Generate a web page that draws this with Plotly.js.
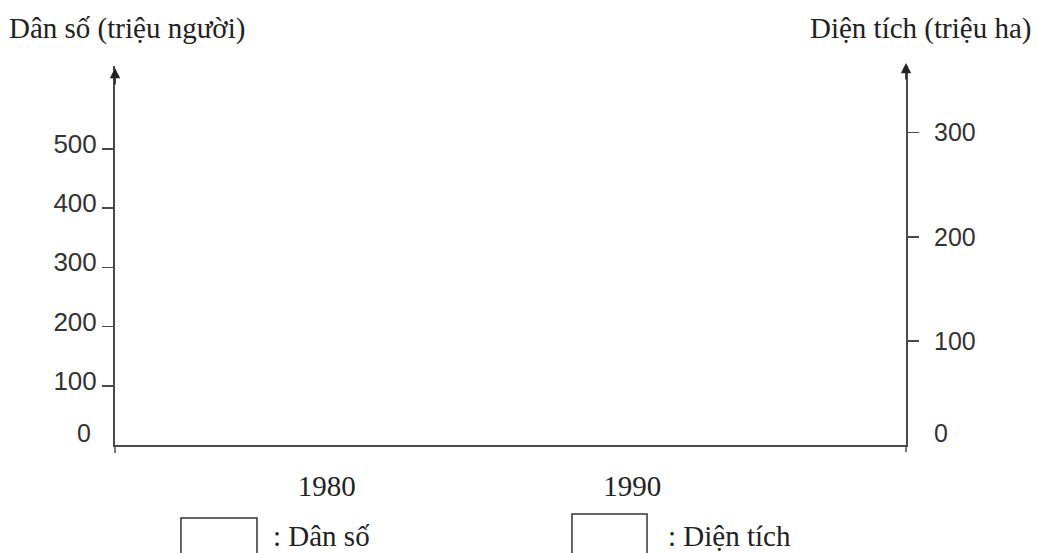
<!DOCTYPE html>
<html>
<head>
<meta charset="utf-8">
<script src="https://cdn.plot.ly/plotly-3.0.1.min.js"></script>
<style>html,body{margin:0;padding:0;background:#fff;}#chart{width:1038px;height:553px;}</style>
</head>
<body>
<div id="chart"></div>
<script>
// Empty template chart: years and the two (blank) series
const categories = ['1980', '1990'];
const populationValues = [null, null];   // Dân số (triệu người) – blank template
const areaValues = [null, null];         // Diện tích (triệu ha) – blank template
const leftTicks = [100, 200, 300, 400, 500];   // 0 is drawn without a tick mark
const rightTicks = [100, 200, 300];
const zeroLabel = '0';
const leftTitle = 'Dân số (triệu người)';
const rightTitle = 'Diện tích (triệu ha)';
const legendNames = ['Dân số', 'Diện tích'];

const axisColor = '#4a4a4a';
const sans = 'Liberation Sans, Arial, sans-serif';
const serif = 'Liberation Serif, Times New Roman, serif';

const traces = [
  {type: 'bar', x: categories, y: populationValues, name: legendNames[0], yaxis: 'y',
   marker: {color: '#fff', line: {color: '#222', width: 1}}, showlegend: false, hoverinfo: 'skip'},
  {type: 'bar', x: categories, y: areaValues, name: legendNames[1], yaxis: 'y2',
   marker: {color: '#fff', line: {color: '#222', width: 1}}, showlegend: false, hoverinfo: 'skip'}
];

const layout = {
  width: 1038, height: 553,
  margin: {l: 115, r: 132, t: 66, b: 108},
  paper_bgcolor: '#fff', plot_bgcolor: '#fff',
  showlegend: false,
  xaxis: {
    type: 'category', categoryorder: 'array', categoryarray: categories,
    range: [-0.694, 1.897],
    showline: true, linecolor: axisColor, linewidth: 2,
    showgrid: false, zeroline: false, ticks: '',
    ticklabelstandoff: 14,
    tickfont: {family: serif, size: 29, color: '#222'},
    fixedrange: true
  },
  yaxis: {
    range: [0, 640],
    tickvals: leftTicks, ticktext: leftTicks.map(String),
    showline: true, linecolor: axisColor, linewidth: 2,
    showgrid: false, zeroline: false,
    ticks: 'outside', ticklen: 11, tickwidth: 1.5, tickcolor: axisColor,
    ticklabelstandoff: 0, ticklabelshift: -5,
    tickfont: {family: sans, size: 26, color: '#333'},
    fixedrange: true
  },
  yaxis2: {
    overlaying: 'y', side: 'right',
    range: [0, 364],
    tickvals: rightTicks, ticktext: rightTicks.map(String),
    showline: true, linecolor: axisColor, linewidth: 2,
    showgrid: false, zeroline: false,
    ticks: 'outside', ticklen: 11, tickwidth: 1.5, tickcolor: axisColor,
    ticklabelstandoff: 10,
    tickfont: {family: sans, size: 25, color: '#333'},
    fixedrange: true
  },
  annotations: [
    {xref: 'paper', yref: 'paper', x: -0.137, y: 1.10, xanchor: 'left', yanchor: 'middle',
     text: leftTitle, showarrow: false, font: {family: serif, size: 29, color: '#222'}},
    {xref: 'paper', yref: 'paper', x: 1.161, y: 1.10, xanchor: 'right', yanchor: 'middle',
     text: rightTitle, showarrow: false, font: {family: serif, size: 29, color: '#222'}},
    // zero labels (no tick marks in the original)
    {xref: 'paper', yref: 'y', x: -0.028, y: 0, yshift: 12, xanchor: 'right', yanchor: 'middle',
     text: zeroLabel, showarrow: false, font: {family: sans, size: 25, color: '#333'}},
    {xref: 'paper', yref: 'y2', x: 1.033, y: 0, yshift: 12, xanchor: 'left', yanchor: 'middle',
     text: zeroLabel, showarrow: false, font: {family: sans, size: 25, color: '#333'}},
    // axis arrowheads
    {xref: 'paper', yref: 'paper', x: 0, y: 0.995, ax: 0, ay: 18, axref: 'pixel', ayref: 'pixel',
     text: '', showarrow: true, arrowhead: 2, arrowsize: 1.3, arrowwidth: 1.6, arrowcolor: '#222'},
    {xref: 'paper', yref: 'paper', x: 1, y: 1.008, ax: 0, ay: 18, axref: 'pixel', ayref: 'pixel',
     text: '', showarrow: true, arrowhead: 2, arrowsize: 1.3, arrowwidth: 1.6, arrowcolor: '#222'},
    // legend labels
    {xref: 'paper', yref: 'paper', x: 0.1985, y: -0.240, xanchor: 'left', yanchor: 'middle', borderpad: 0,
     text: ': ' + legendNames[0], showarrow: false, font: {family: serif, size: 29, color: '#222'}},
    {xref: 'paper', yref: 'paper', x: 0.6979, y: -0.240, xanchor: 'left', yanchor: 'middle', borderpad: 0,
     text: ': ' + legendNames[1], showarrow: false, font: {family: serif, size: 29, color: '#222'}}
  ],
  shapes: [
    // legend boxes
    {type: 'rect', xref: 'paper', yref: 'paper', x0: 0.0834, x1: 0.1795, y0: -0.1926, y1: -0.300,
     line: {color: '#333', width: 1.5}, fillcolor: '#fff'},
    {type: 'rect', xref: 'paper', yref: 'paper', x0: 0.5777, x1: 0.6726, y0: -0.182, y1: -0.300,
     line: {color: '#333', width: 1.5}, fillcolor: '#fff'},
    // axis ends extending just below the x-axis
    {type: 'line', xref: 'paper', yref: 'paper', x0: 0, x1: 0, y0: 0, y1: -0.021,
     line: {color: axisColor, width: 1.5}},
    {type: 'line', xref: 'paper', yref: 'paper', x0: 1, x1: 1, y0: 0, y1: -0.019,
     line: {color: axisColor, width: 1.5}}
  ]
};

Plotly.newPlot('chart', traces, layout, {staticPlot: true, displayModeBar: false});
</script>
</body>
</html>
